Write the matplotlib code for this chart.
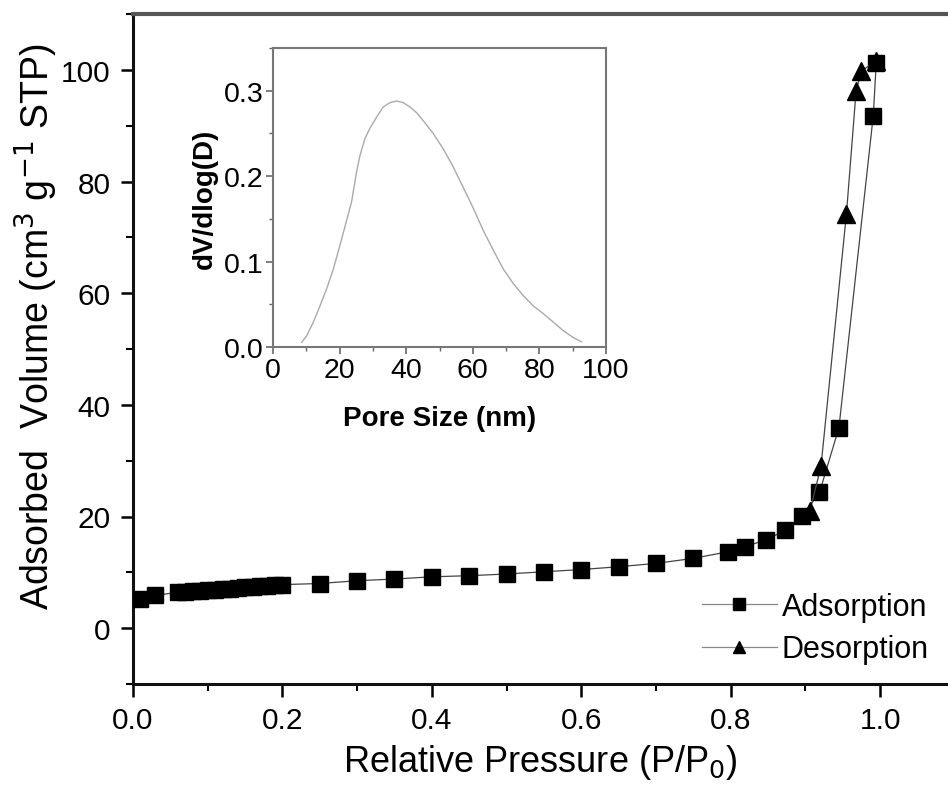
import matplotlib
matplotlib.use("Agg")
import matplotlib.pyplot as plt
import matplotlib.transforms as mtransforms
from matplotlib.ticker import MultipleLocator

plt.rcParams['font.family'] = ['Liberation Sans', 'DejaVu Sans']

# Adsorption branch
ads_p = [0.01, 0.03, 0.06, 0.07, 0.08, 0.09, 0.10, 0.11, 0.12, 0.13, 0.14, 0.15,
         0.16, 0.17, 0.18, 0.19, 0.20, 0.25, 0.30, 0.35, 0.40, 0.45, 0.50, 0.55,
         0.60, 0.65, 0.70, 0.75, 0.797, 0.819, 0.847, 0.873, 0.896, 0.919, 0.945,
         0.991, 0.995]
ads_v = [5.2, 5.9, 6.4, 6.5, 6.6, 6.7, 6.8, 6.9, 7.0, 7.1, 7.2, 7.3,
         7.4, 7.5, 7.6, 7.7, 7.8, 8.0, 8.5, 8.8, 9.2, 9.4, 9.7, 10.1,
         10.5, 11.0, 11.6, 12.5, 13.7, 14.6, 15.8, 17.5, 20.1, 24.3, 35.9,
         91.8, 101.3]

# Desorption branch
des_p = [0.995, 0.975, 0.968, 0.955, 0.921, 0.906]
des_v = [101.6, 99.8, 96.2, 74.1, 29.0, 20.9]

# Pore size distribution (inset)
pore_d = [8.6, 10.1, 12.1, 14.1, 16.1, 18.1, 20.1, 22.1, 23.6, 25.1, 26.1, 27.6,
          29.1, 31.1, 33.1, 35.1, 37.1, 39.1, 41.1, 43.2, 45.1, 48.1, 51.1, 54.1,
          57.1, 60.2, 63.2, 66.2, 69.2, 72.2, 75.2, 78.2, 81.2, 84.2, 87.2, 90.2, 92.7]
pore_dv = [0.0055, 0.013, 0.029, 0.048, 0.068, 0.091, 0.119, 0.148, 0.170, 0.205,
           0.224, 0.244, 0.256, 0.269, 0.281, 0.286, 0.288, 0.286, 0.281, 0.274,
           0.265, 0.250, 0.232, 0.211, 0.187, 0.162, 0.136, 0.113, 0.091, 0.074,
           0.060, 0.048, 0.039, 0.029, 0.019, 0.011, 0.006]

W, H = 948, 803
fig = plt.figure(figsize=(W / 100, H / 100), dpi=100)

def rect(l, t, r, b):
    return [l / W, 1 - b / H, (r - l) / W, (b - t) / H]

ax = fig.add_axes(rect(133, 15, 1029.4, 685))
ax.plot(ads_p, ads_v, color='#444444', lw=0.9, marker='s', ms=11,
        mfc='black', mec='black', label='Adsorption', zorder=3)
ax.plot(des_p, des_v, color='#444444', lw=0.9, marker='^', ms=13,
        mfc='black', mec='black', label='Desorption', zorder=3)
ax.set_xlim(0, 1.2)
ax.set_ylim(-10, 110)
ax.xaxis.set_minor_locator(MultipleLocator(0.1))
ax.yaxis.set_minor_locator(MultipleLocator(10))
ax.set_xticks([0, 0.2, 0.4, 0.6, 0.8, 1.0])
ax.set_xticklabels(['0.0', '0.2', '0.4', '0.6', '0.8', '1.0'])
ax.set_yticks([0, 20, 40, 60, 80, 100])
ax.tick_params(which='major', length=9, width=1.8, labelsize=21.5, direction='out', pad=7)
ax.tick_params(which='minor', length=5, width=1.5, direction='out')
for s in ['left', 'bottom']:
    ax.spines[s].set_linewidth(2.2)
    ax.spines[s].set_color('#111111')
ax.spines['top'].set_linewidth(3)
ax.spines['top'].set_color('#555555')
ax.spines['right'].set_visible(False)

figtr = mtransforms.blended_transform_factory(fig.transFigure, fig.transFigure)
ax.set_ylabel('Adsorbed  Volume (cm$^3$ g$^{-1}$ STP)', fontsize=27)
ax.yaxis.set_label_coords(60 / W, 1 - 327 / H, transform=figtr)
ax.set_xlabel('Relative Pressure (P/P$_0$)', fontsize=26)
ax.xaxis.set_label_coords(540 / W, 1 - 743 / H, transform=figtr)

leg = ax.legend(loc='upper left', bbox_to_anchor=(702 / W, 1 - 593 / H),
                bbox_transform=fig.transFigure, frameon=False,
                fontsize=22, handlelength=2.45, handletextpad=0.16, labelspacing=0.4,
                borderaxespad=0, borderpad=0)
for h in leg.get_lines():
    h.set_color('#888888')
    h.set_markersize(9)

# Inset
ins = fig.add_axes(rect(273, 49, 606, 348))
ins.plot(pore_d, pore_dv, color='#aaaaaa', lw=1.0)
ins.set_xlim(0, 100)
ins.set_ylim(0, 0.35)
ins.set_xticks([0, 20, 40, 60, 80, 100])
ins.set_yticks([0.0, 0.1, 0.2, 0.3])
ins.set_yticklabels(['0.0', '0.1', '0.2', '0.3'])
ins.xaxis.set_minor_locator(MultipleLocator(10))
ins.yaxis.set_minor_locator(MultipleLocator(0.05))
ins.tick_params(which='major', length=5, width=1.2, labelsize=20.5, direction='out',
                pad=2, color='#666666')
ins.tick_params(which='minor', length=3, width=1.0, direction='out', color='#666666')
for s in ins.spines.values():
    s.set_color('#777777')
    s.set_linewidth(1.5)
ins.set_xlabel('Pore Size (nm)', fontsize=20, fontweight='bold', labelpad=16)
ins.set_ylabel('dV/dlog(D)', fontsize=20, fontweight='bold', labelpad=4)

fig.savefig('out.png', dpi=100)
